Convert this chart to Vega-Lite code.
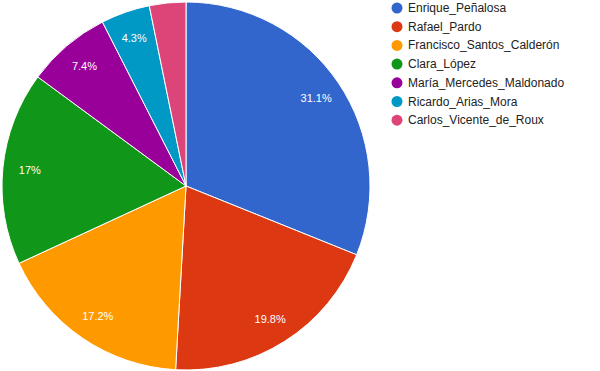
{
  "$schema": "https://vega.github.io/schema/vega-lite/v6.json",
  "width": 372,
  "height": 372,
  "padding": 0,
  "autosize": {"type": "pad"},
  "background": "white",
  "view": {"stroke": null},
  "config": {"font": "Liberation Sans"},
  "data": {
    "values": [
      {"candidate": "Enrique_Peñalosa", "value": 0.311},
      {"candidate": "Rafael_Pardo", "value": 0.198},
      {"candidate": "Francisco_Santos_Calderón", "value": 0.172},
      {"candidate": "Clara_López", "value": 0.170},
      {"candidate": "María_Mercedes_Maldonado", "value": 0.074},
      {"candidate": "Ricardo_Arias_Mora", "value": 0.043},
      {"candidate": "Carlos_Vicente_de_Roux", "value": 0.032}
    ]
  },
  "encoding": {
    "theta": {"field": "value", "type": "quantitative", "stack": true},
    "order": {"field": "value", "sort": "descending"},
    "color": {
      "field": "candidate",
      "type": "nominal",
      "scale": {
        "domain": ["Enrique_Peñalosa", "Rafael_Pardo", "Francisco_Santos_Calderón", "Clara_López", "María_Mercedes_Maldonado", "Ricardo_Arias_Mora", "Carlos_Vicente_de_Roux"],
        "range": ["#3366CC", "#DC3912", "#FF9900", "#109618", "#990099", "#0099C6", "#DD4477"]
      },
      "legend": {
        "title": null,
        "orient": "none",
        "legendX": 391,
        "legendY": 2,
        "symbolType": "circle",
        "symbolSize": 121,
        "symbolStrokeWidth": 0,
        "labelFont": "Liberation Sans",
        "labelFontSize": 12,
        "labelColor": "#222222",
        "labelOffset": 5,
        "rowPadding": 6.7,
        "labelLimit": 300
      }
    }
  },
  "layer": [
    {
      "mark": {"type": "arc", "outerRadius": 184, "stroke": "white", "strokeWidth": 1}
    },
    {
      "transform": [{"filter": "datum.value >= 0.04"}],
      "mark": {"type": "text", "radius": 157, "fill": "white", "fontSize": 11, "font": "Liberation Sans", "align": "center", "baseline": "middle", "dy": 1},
      "encoding": {
        "text": {"field": "value", "type": "quantitative", "format": ".1~%"},
        "color": {"value": "white"}
      }
    }
  ]
}
